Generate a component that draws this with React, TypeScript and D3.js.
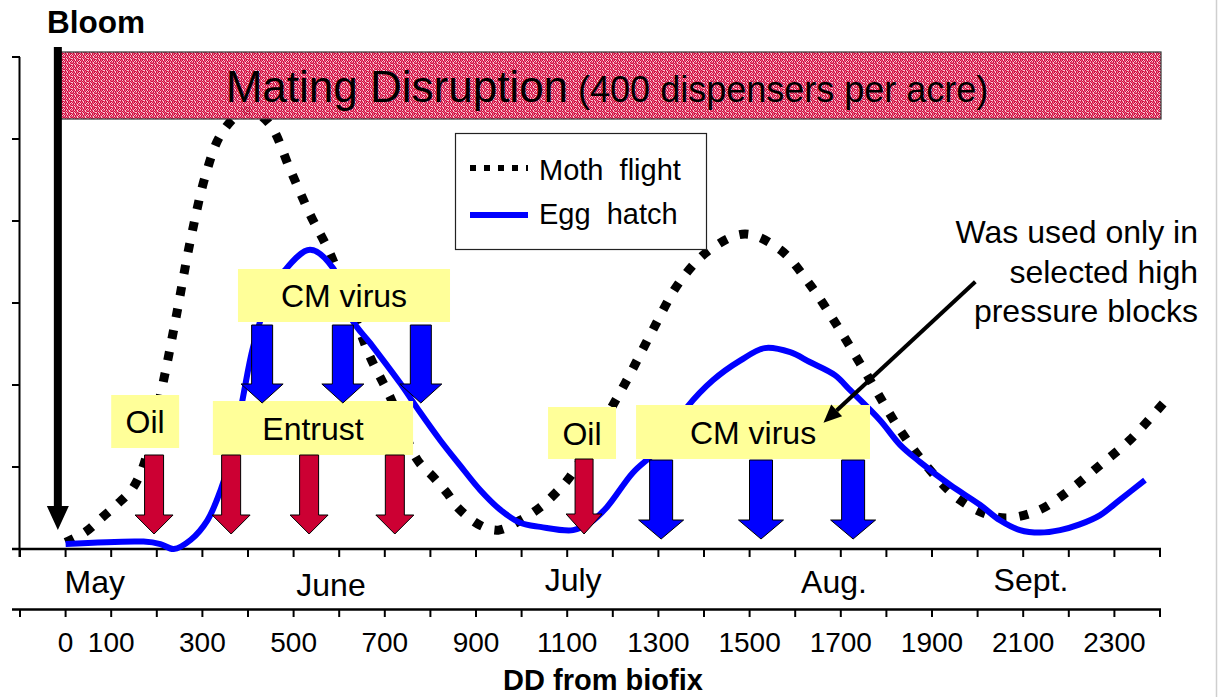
import React from 'react';
import * as d3 from 'd3';

const W = 1218;
const H = 697;
const FONT = "'Liberation Sans', Arial, Helvetica, sans-serif";

// Degree-day axis
const ddTicks = d3.range(-100, 2401, 100);
const ddLabels = [0, 100, 300, 500, 700, 900, 1100, 1300, 1500, 1700, 1900, 2100, 2300];

// Calendar months placed along the degree-day axis
const monthNames = ['May', 'June', 'July', 'Aug.', 'Sept.'];
const monthDD = [64, 582, 1113, 1685, 2117];

// Relative abundance curves: [degree-days from biofix, relative level]
const mothFlight: [number, number][] = [
  [0, 0.08], [44, 0.21], [81, 0.39], [116, 0.56], [147, 0.74], [169, 0.99], [182, 1.24],
  [215, 2.06], [241, 2.79], [274, 3.77], [307, 4.56], [340, 5.05], [384, 5.32], [410, 5.34],
  [449, 5.17], [493, 4.62], [537, 4.07], [581, 3.59], [642, 2.71], [668, 2.34], [712, 1.85],
  [771, 1.09], [806, 0.88], [837, 0.68], [859, 0.51], [909, 0.29], [949, 0.23], [997, 0.35],
  [1041, 0.51], [1074, 0.68], [1106, 0.88], [1168, 1.45], [1227, 2.02], [1282, 2.61],
  [1347, 3.26], [1413, 3.65], [1490, 3.84], [1567, 3.65], [1633, 3.22], [1698, 2.67],
  [1764, 2.06], [1830, 1.45], [1896, 0.96], [1961, 0.60], [2027, 0.41], [2071, 0.38],
  [2137, 0.48], [2202, 0.72], [2268, 1.02], [2334, 1.33], [2417, 1.84],
];

const eggHatch: [number, number][] = [
  [0, 0.06], [171, 0.09], [208, 0.06], [237, 0.0], [274, 0.11], [311, 0.35], [340, 0.72],
  [368, 1.24], [389, 1.85], [411, 2.46], [444, 3.05], [481, 3.4], [536, 3.65], [586, 3.43],
  [629, 2.79], [668, 2.51], [734, 2.02], [777, 1.67], [821, 1.33], [865, 1.02], [909, 0.72],
  [953, 0.48], [997, 0.32], [1041, 0.27], [1113, 0.23], [1150, 0.32], [1187, 0.51],
  [1244, 0.93], [1300, 1.22], [1363, 1.73], [1420, 2.06], [1480, 2.3], [1533, 2.45],
  [1589, 2.4], [1632, 2.28], [1687, 2.12], [1720, 1.94], [1786, 1.57], [1830, 1.27],
  [1874, 1.06], [1940, 0.78], [2005, 0.54], [2049, 0.35], [2093, 0.23], [2137, 0.2],
  [2181, 0.23], [2224, 0.3], [2268, 0.41], [2312, 0.6], [2367, 0.84],
];

// Spray timings (degree-days from biofix)
const oilDD = [194, 1137];
const entrustDD = [363, 534, 722];
const cmVirusEarlyDD = [431, 608, 779];
const cmVirusLateDD = [1306, 1525, 1727];

// Speckled fill for the mating disruption band
const speckleRows = ['cpcwcpcw', 'wcpcpcwc', 'pcwcpwcp', 'cpcpcwpc', 'wcwcpcpw', 'pcpwcpcc'];
const speckleColors: Record<string, string> = { c: '#cc0033', p: '#e8557c', w: '#f8c6d3' };

const x = d3.scaleLinear().domain([-100, 2400]).range([20, 1160]);
const y = d3.scaleLinear().domain([0, 6]).range([549, 57]);

const line = d3
  .line<[number, number]>()
  .x((d) => x(d[0]))
  .y((d) => y(d[1]))
  .curve(d3.curveCatmullRom.alpha(0.5));

function downArrow(cx: number, top: number, tip: number, shaftW: number, headW: number, headH: number) {
  const hs = shaftW / 2;
  const hh = headW / 2;
  const neck = tip - headH;
  return `M${cx - hs},${top}H${cx + hs}V${neck}H${cx + hh}L${cx},${tip}L${cx - hh},${neck}H${cx - hs}Z`;
}

type Box = { label: string; x0: number; x1: number; top: number; bottom: number };
const labelBoxes: Box[] = [
  { label: 'Oil', x0: 100, x1: 249, top: 395, bottom: 448 },
  { label: 'Entrust', x0: 323, x1: 762, top: 401, bottom: 455 },
  { label: 'CM virus', x0: 378, x1: 843, top: 269, bottom: 322 },
  { label: 'Oil', x0: 1058, x1: 1207, top: 407, bottom: 459 },
  { label: 'CM virus', x0: 1251, x1: 1764, top: 405, bottom: 459 },
];

export default function App() {
  const redFill = '#cc0033';
  const blueFill = '#0000ff';

  // callout arrow from the note to the late CM virus label
  const cStart = [x(1995), y(3.26)];
  const cEnd = [x(1662), y(1.54)];
  const ang = Math.atan2(cEnd[1] - cStart[1], cEnd[0] - cStart[0]);
  const headLen = 18;
  const headHalf = 8;
  const base = [cEnd[0] - headLen * Math.cos(ang), cEnd[1] - headLen * Math.sin(ang)];
  const perp = [-Math.sin(ang), Math.cos(ang)];
  const calloutHead = `M${cEnd[0]},${cEnd[1]}L${base[0] + perp[0] * headHalf},${base[1] + perp[1] * headHalf}L${base[0] - perp[0] * headHalf},${base[1] - perp[1] * headHalf}Z`;

  const bloomX = x(-17);

  return (
    <svg
      width={W}
      height={H}
      viewBox={`0 0 ${W} ${H}`}
      style={{ position: 'absolute', left: 0, top: 0, background: '#fff' }}
      fontFamily={FONT}
    >
      <defs>
        <pattern id="speckle" width={8} height={6} patternUnits="userSpaceOnUse">
          {speckleRows.map((row, r) =>
            row.split('').map((ch, c) => (
              <rect key={`${r}-${c}`} x={c} y={r} width={1} height={1} fill={speckleColors[ch]} />
            ))
          )}
        </pattern>
      </defs>

      <rect x={0} y={0} width={W} height={H} fill="#fff" />
      <line x1={1216.5} x2={1216.5} y1={0} y2={H} stroke="#cfcfcf" strokeWidth={1.5} />

      {/* left value axis */}
      <line x1={19.5} x2={19.5} y1={y(6)} y2={y(0) + 8} stroke="#000" strokeWidth={2} />
      {y.ticks(6).map((t) => (
        <line key={t} x1={12} x2={20} y1={y(t)} y2={y(t)} stroke="#000" strokeWidth={2} />
      ))}

      {/* month axis */}
      <line x1={12} x2={x(2400) + 1} y1={549} y2={549} stroke="#000" strokeWidth={2.5} />
      {ddTicks.map((t) => (
        <line key={t} x1={x(t)} x2={x(t)} y1={549} y2={557} stroke="#000" strokeWidth={2} />
      ))}
      {monthNames.map((m, i) => (
        <text key={m} x={x(monthDD[i])} y={[593, 596, 591, 593, 591][i]} fontSize={32} textAnchor="middle">
          {m}
        </text>
      ))}

      {/* degree-day axis */}
      <line x1={12} x2={x(2400) + 1} y1={609.5} y2={609.5} stroke="#000" strokeWidth={2.5} />
      {ddTicks.map((t) => (
        <line key={t} x1={x(t)} x2={x(t)} y1={609} y2={617} stroke="#000" strokeWidth={2} />
      ))}
      {ddLabels.map((t) => (
        <text key={t} x={x(t)} y={652} fontSize={28} textAnchor="middle">
          {t}
        </text>
      ))}
      <text x={603} y={690} fontSize={29} fontWeight="bold" textAnchor="middle">
        DD from biofix
      </text>

      {/* series */}
      <path d={line(mothFlight) ?? ''} fill="none" stroke="#000" strokeWidth={9} strokeDasharray="9,13" />
      <path d={line(eggHatch) ?? ''} fill="none" stroke={blueFill} strokeWidth={6} />

      {/* mating disruption band */}
      <rect x={57} y={52} width={1104} height={67} fill="url(#speckle)" fillOpacity={0.94} stroke="#333" strokeWidth={1.2} />
      <text x={607} y={102} textAnchor="middle" xmlSpace="preserve">
        <tspan fontSize={44}>Mating Disruption</tspan>
        <tspan fontSize={36}>{' (400 dispensers per acre)'}</tspan>
      </text>

      {/* legend */}
      <rect x={455.5} y={133.5} width={251} height={116} fill="#fff" stroke="#222" strokeWidth={1.2} />
      <line x1={470} x2={528} y1={168} y2={168} stroke="#000" strokeWidth={6} strokeDasharray="6,8" />
      <text x={539} y={180} fontSize={29} xmlSpace="preserve">
        {'Moth  flight'}
      </text>
      <line x1={470} x2={528} y1={215} y2={215} stroke={blueFill} strokeWidth={6} />
      <text x={539} y={224} fontSize={29} xmlSpace="preserve">
        {'Egg  hatch'}
      </text>

      {/* treatment labels */}
      {labelBoxes.map((b, i) => (
        <g key={i}>
          <rect x={x(b.x0)} y={b.top} width={x(b.x1) - x(b.x0)} height={b.bottom - b.top} fill="#ffff99" />
          <text x={(x(b.x0) + x(b.x1)) / 2} y={(b.top + b.bottom) / 2 + 11.5} fontSize={32} textAnchor="middle">
            {b.label}
          </text>
        </g>
      ))}

      {/* treatment arrows */}
      {cmVirusEarlyDD.map((d) => (
        <path key={`cv1-${d}`} d={downArrow(x(d), 325, 403, 21, 42, 19)} fill={blueFill} stroke="#000" strokeWidth={1} />
      ))}
      {[oilDD[0], ...entrustDD].map((d) => (
        <path key={`r-${d}`} d={downArrow(x(d), 455, 534, 19, 38, 19)} fill={redFill} stroke="#000" strokeWidth={1} />
      ))}
      <path d={downArrow(x(oilDD[1]), 459, 534, 18, 36, 20)} fill={redFill} stroke="#000" strokeWidth={1} />
      {cmVirusLateDD.map((d) => (
        <path key={`cv2-${d}`} d={downArrow(x(d), 460, 539, 23, 45, 19)} fill={blueFill} stroke="#000" strokeWidth={1} />
      ))}

      {/* bloom marker */}
      <text x={47} y={33} fontSize={31.5} fontWeight="bold">
        Bloom
      </text>
      <path d={downArrow(bloomX, 47, 530, 8, 22, 24)} fill="#000" />

      {/* note with callout */}
      <g fontSize={32} textAnchor="end">
        <text x={1198} y={243}>Was used only in</text>
        <text x={1198} y={283}>selected high</text>
        <text x={1198} y={322}>pressure blocks</text>
      </g>
      <line x1={cStart[0]} y1={cStart[1]} x2={base[0]} y2={base[1]} stroke="#000" strokeWidth={4} />
      <path d={calloutHead} fill="#000" />
    </svg>
  );
}
